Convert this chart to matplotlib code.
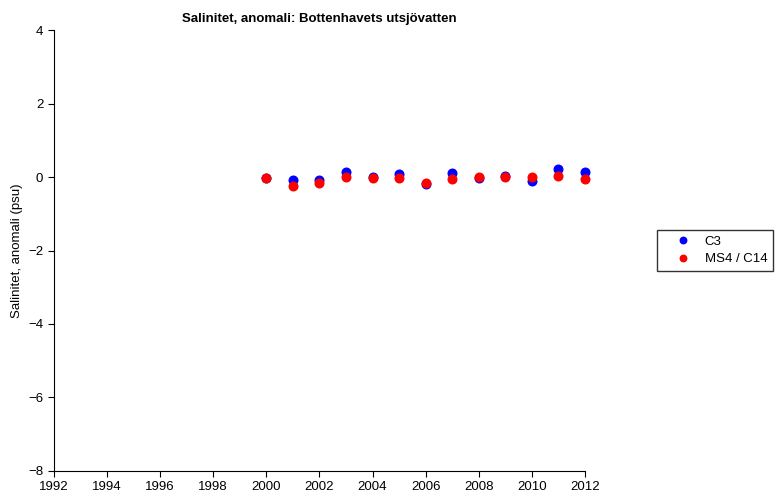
import matplotlib
matplotlib.use("Agg")
import matplotlib.pyplot as plt

plt.rcParams['font.family'] = ['Liberation Sans', 'DejaVu Sans']

years = [2000, 2001, 2002, 2003, 2004, 2005, 2006, 2007, 2008, 2009, 2010, 2011, 2012]
c3 = [-0.03, -0.09, -0.08, 0.15, 0.01, 0.07, -0.20, 0.10, -0.02, 0.04, -0.11, 0.22, 0.13]
ms4 = [-0.03, -0.25, -0.15, 0.01, -0.04, -0.03, -0.15, -0.05, -0.01, 0.01, -0.01, 0.03, -0.05]
xticks = list(range(1992, 2013, 2))
yticks = [-8, -6, -4, -2, 0, 2, 4]

fig = plt.figure(figsize=(7.78, 5.01), dpi=100)
ax = fig.add_axes([0.069, 0.06, 0.683, 0.88])
ax.plot(years, c3, 'o', color='#0000ff', markersize=6.2, label='C3', linestyle='none', clip_on=False)
ax.plot(years, ms4, 'o', color='#ff0000', markersize=6.2, label='MS4 / C14', linestyle='none', clip_on=False)
ax.set_xlim(1992, 2012)
ax.set_ylim(-8, 4)
ax.set_xticks(xticks)
ax.set_yticks(yticks)
ax.set_yticklabels(['\u22128', '\u22126', '\u22124', '\u22122', '0', '2', '4'])
ax.tick_params(labelsize=9.5, direction='out', length=4)
ax.spines['top'].set_visible(False)
ax.spines['right'].set_visible(False)
ax.set_ylabel('Salinitet, anomali (psu)', fontsize=9.5)
ax.set_title('Salinitet, anomali: Bottenhavets utsjövatten', fontsize=9.5, fontweight='bold', pad=6)
leg = fig.legend(loc='center left', bbox_to_anchor=(0.8445, 0.5), borderaxespad=0, fontsize=9.5, frameon=True,
                 fancybox=False, edgecolor='black', handlelength=3.0, handletextpad=0.15,
                 borderpad=0.45, labelspacing=0.4, markerscale=0.75)
leg.get_frame().set_linewidth(1.0)
fig.savefig('out.png', dpi=100)
